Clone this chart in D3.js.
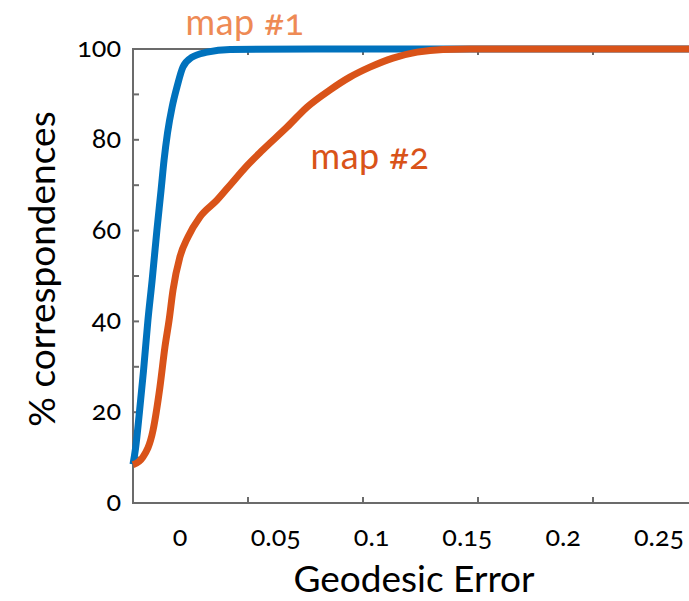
<!DOCTYPE html>
<html>
<head>
<meta charset="utf-8">
<script src="https://cdn.jsdelivr.net/npm/d3@7"></script>
<style>
  body { margin: 0; background: #fff; }
  svg text { font-family: Lato, "Open Sans", sans-serif; font-variant-numeric: oldstyle-nums; }
</style>
</head>
<body>
<script>
// data
var errMap1 = [0, 0.0011, 0.0028, 0.0046, 0.0065, 0.0083, 0.0104, 0.0122, 0.0135, 0.0150, 0.0170, 0.0191, 0.0217, 0.0257, 0.0322, 0.0422, 0.08, 0.15, 0.25];
var pctMap1 = [8.5, 12, 20, 29.3, 40.3, 49, 60.1, 68.9, 75.5, 81.5, 87.2, 91.6, 96, 98.2, 99.3, 99.9, 100, 100, 100];

var errMap2 = [0, 0.0043, 0.0087, 0.0117, 0.0139, 0.0157, 0.0174, 0.0204, 0.0239, 0.0291, 0.0365, 0.0430, 0.0490, 0.0565, 0.0670, 0.0757, 0.0857, 0.0943, 0.1030, 0.1130, 0.1235, 0.1348, 0.1465, 0.2, 0.25];
var pctMap2 = [8.4, 10.1, 16, 25.5, 34.4, 40.3, 46.9, 54.2, 58.6, 63, 66.7, 70.5, 74, 77.8, 82.8, 87.2, 91, 93.8, 96, 98, 99.3, 99.9, 100, 100, 100];

var xTickVals = [0.05, 0.1, 0.15, 0.2, 0.25];
var xLabels = ["0", "0.05", "0.1", "0.15", "0.2", "0.25"];
var yTickVals = [0, 10, 20, 30, 40, 50, 60, 70, 80, 90, 100];
var yLabels = [0, 20, 40, 60, 80, 100];

drawChart();

function drawChart(){
    var width = 689, height = 601;
    var plotLeft = 133, plotTop = 49, plotBottom = 503;

    var svg = d3.select("body").append("svg")
        .attr("width", width)
        .attr("height", height);

    var x = d3.scaleLinear().domain([0, (width - plotLeft) / 2300]).range([plotLeft, width]);
    var y = d3.scaleLinear().domain([0, 100]).range([plotBottom, plotTop]);
    // the printed tick labels sit on their own spacing in the figure
    var xLab = d3.scaleLinear().domain([0, 0.25]).range([180, 659]);

    var axisColor = "#6b6b6b";

    // frame lines
    svg.append("line").attr("x1", plotLeft).attr("x2", width).attr("y1", y(0)).attr("y2", y(0))
        .attr("stroke", axisColor).attr("stroke-width", 2);
    svg.append("line").attr("x1", plotLeft).attr("x2", width).attr("y1", y(100)).attr("y2", y(100))
        .attr("stroke", axisColor).attr("stroke-width", 2);
    svg.append("line").attr("x1", plotLeft).attr("x2", plotLeft).attr("y1", y(0) + 1).attr("y2", y(100) - 1)
        .attr("stroke", axisColor).attr("stroke-width", 2);

    // inward ticks
    svg.selectAll(".ytick").data(yTickVals).enter().append("line")
        .attr("x1", plotLeft).attr("x2", plotLeft + 6)
        .attr("y1", function(d){ return y(d); }).attr("y2", function(d){ return y(d); })
        .attr("stroke", axisColor).attr("stroke-width", 2);
    svg.selectAll(".xtickb").data(xTickVals).enter().append("line")
        .attr("x1", function(d){ return x(d); }).attr("x2", function(d){ return x(d); })
        .attr("y1", y(0)).attr("y2", y(0) - 6)
        .attr("stroke", axisColor).attr("stroke-width", 2);
    svg.selectAll(".xtickt").data(xTickVals).enter().append("line")
        .attr("x1", function(d){ return x(d); }).attr("x2", function(d){ return x(d); })
        .attr("y1", y(100)).attr("y2", y(100) + 6)
        .attr("stroke", axisColor).attr("stroke-width", 2);

    // tick labels
    svg.selectAll(".ylab").data(yLabels).enter().append("text")
        .attr("x", 121)
        .attr("y", function(d){ return y(d) + 8; })
        .attr("text-anchor", "end")
        .attr("font-size", 27)
        .attr("fill", "#000")
        .text(function(d){ return d; });
    svg.selectAll(".xlab").data(xLabels).enter().append("text")
        .attr("x", function(d){ return xLab(+d); })
        .attr("y", 546)
        .attr("text-anchor", "middle")
        .attr("font-size", 27)
        .attr("fill", "#000")
        .text(function(d){ return d; });

    // curves
    var line = d3.line()
        .x(function(d){ return x(d[0]); })
        .y(function(d){ return y(d[1]); })
        .curve(d3.curveMonotoneX);

    svg.append("path")
        .datum(d3.zip(errMap1, pctMap1))
        .attr("d", line)
        .attr("fill", "none")
        .attr("stroke", "#0072BD")
        .attr("stroke-width", 7)
        .attr("stroke-linejoin", "round");

    svg.append("path")
        .datum(d3.zip(errMap2, pctMap2))
        .attr("d", line)
        .attr("fill", "none")
        .attr("stroke", "#D95319")
        .attr("stroke-width", 7)
        .attr("stroke-linejoin", "round");

    // labels
    svg.append("text").attr("x", 245).attr("y", 35).attr("text-anchor", "middle")
        .attr("font-size", 36).attr("letter-spacing", 0.5).attr("fill", "#EE8A55").text("map #1");
    svg.append("text").attr("x", 370).attr("y", 169).attr("text-anchor", "middle")
        .attr("font-size", 36).attr("letter-spacing", 0.5).attr("fill", "#D95319").text("map #2");

    svg.append("text").attr("x", 414).attr("y", 592).attr("text-anchor", "middle")
        .attr("font-size", 37).attr("fill", "#000").text("Geodesic Error");
    svg.append("text")
        .attr("transform", "translate(55,269) rotate(-90)")
        .attr("text-anchor", "middle")
        .attr("font-size", 37).attr("fill", "#000").text("% correspondences");
}
</script>
</body>
</html>
